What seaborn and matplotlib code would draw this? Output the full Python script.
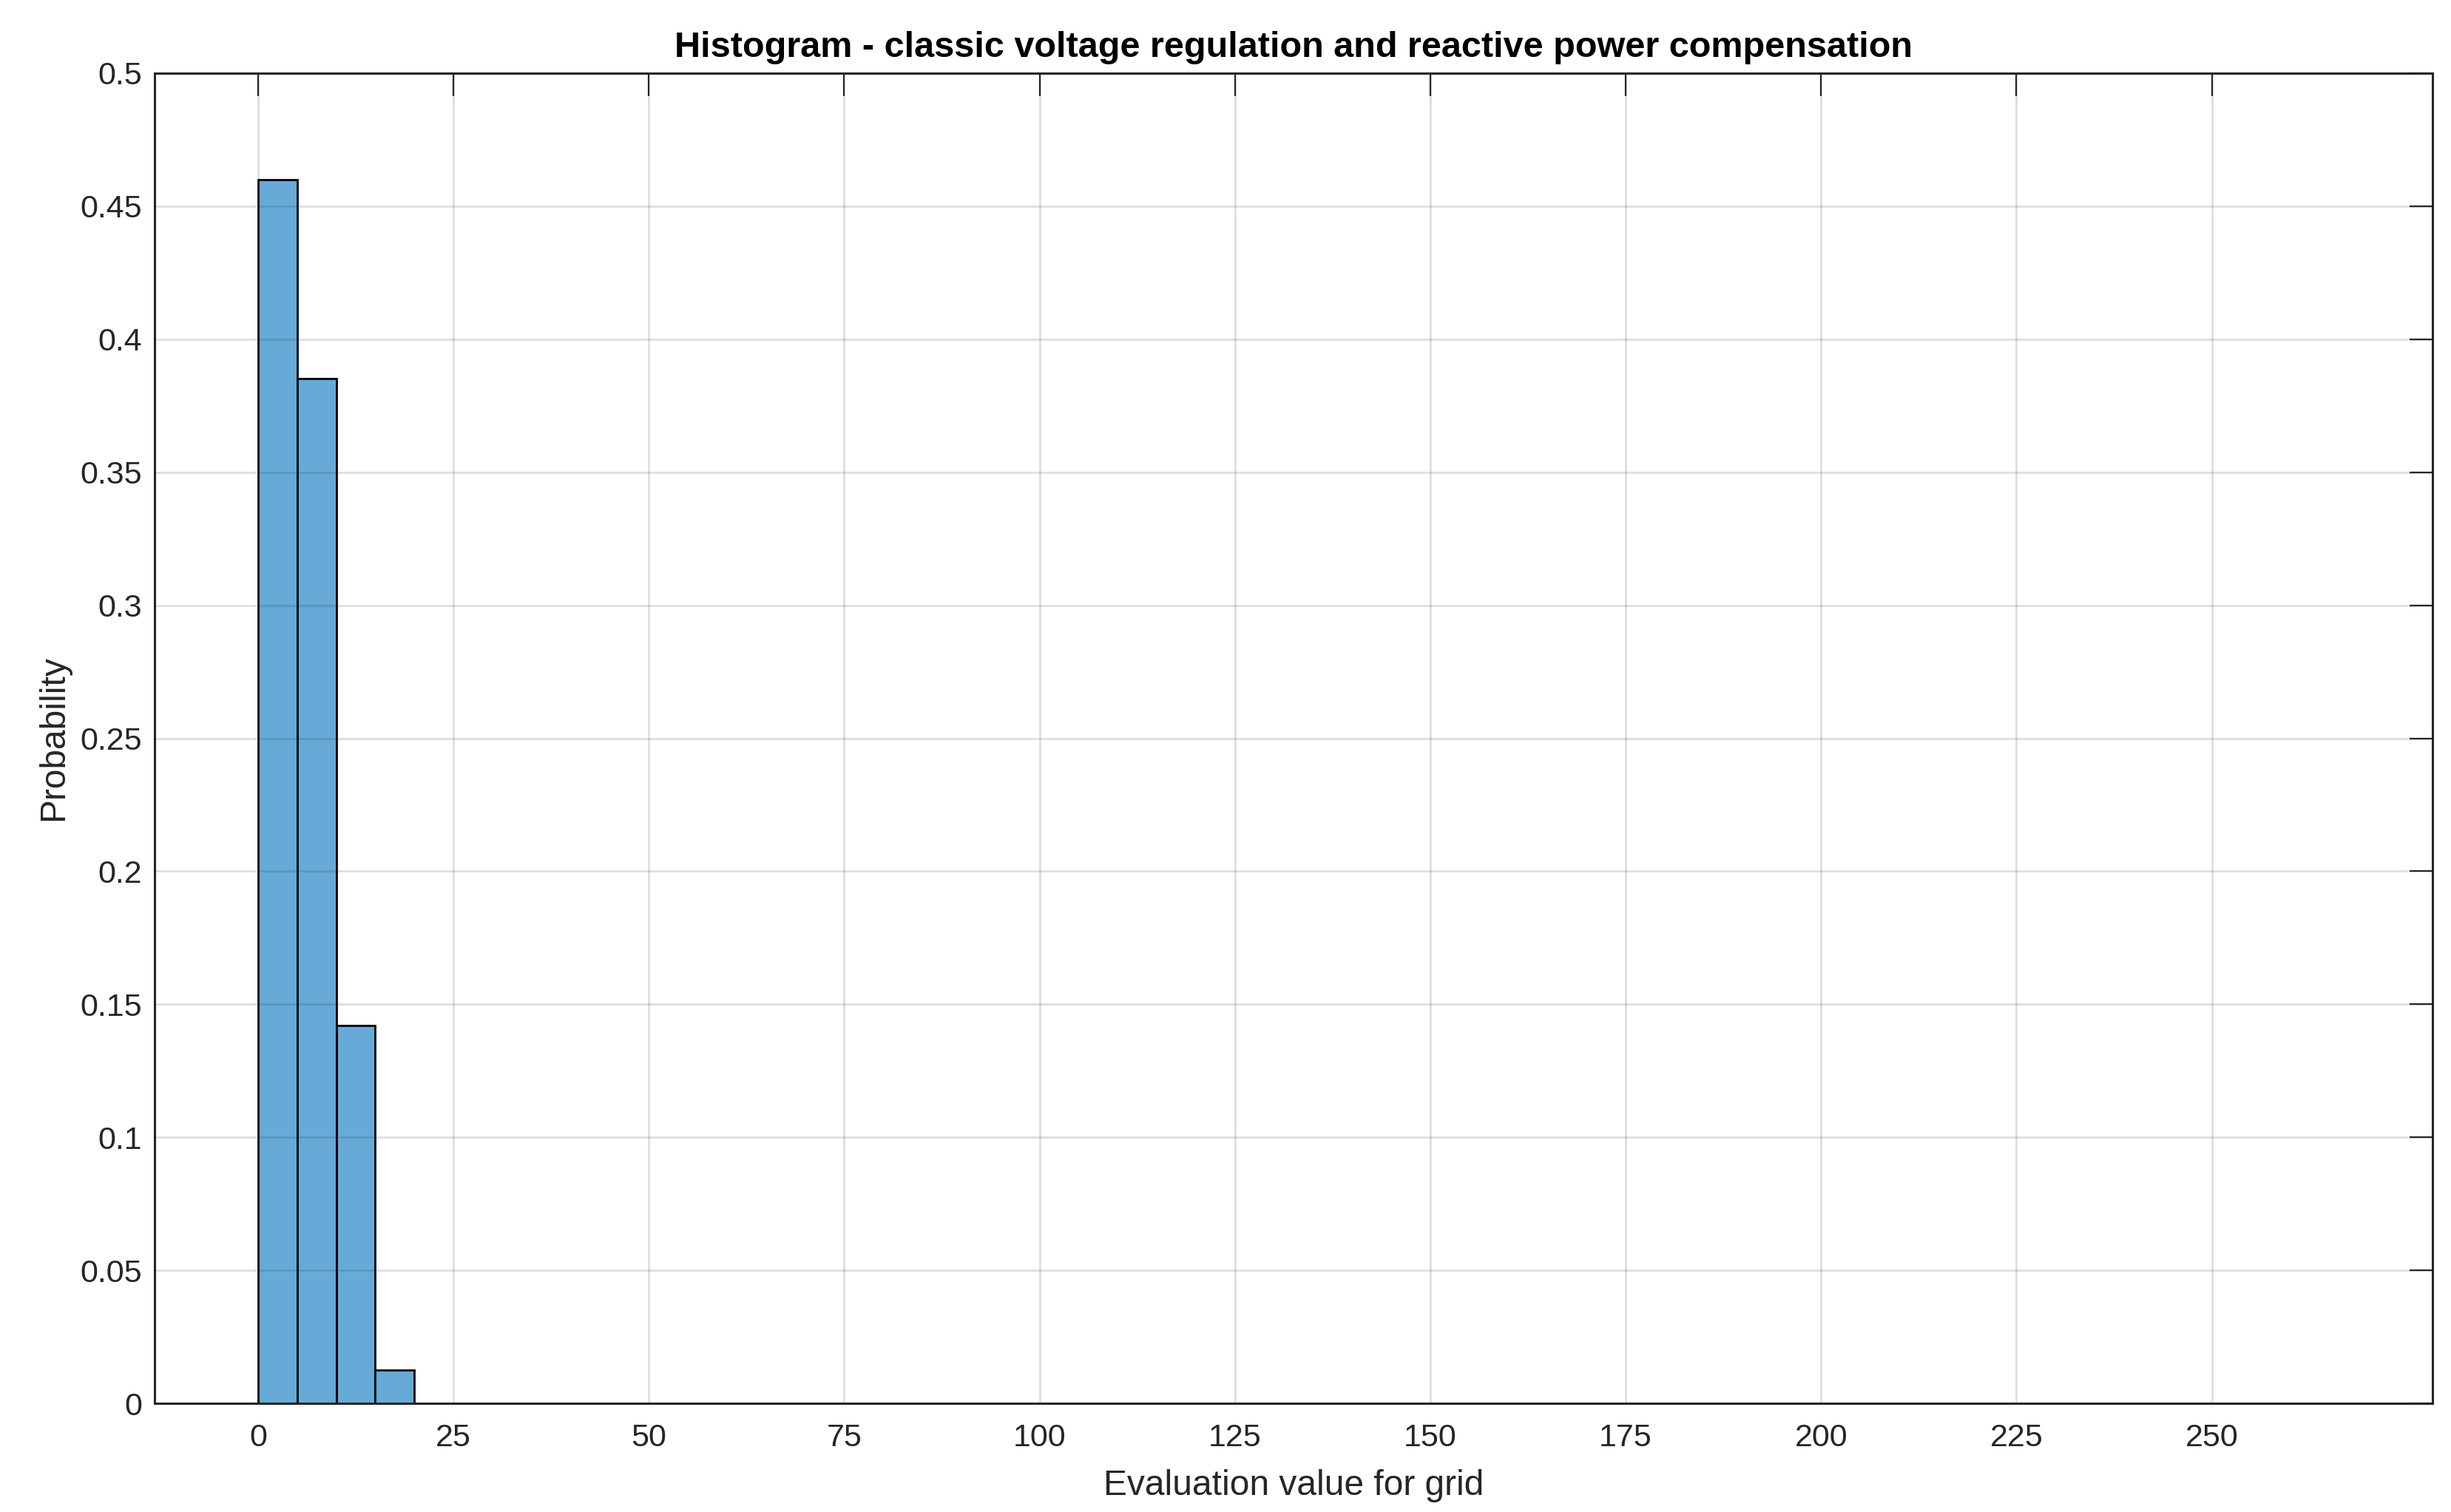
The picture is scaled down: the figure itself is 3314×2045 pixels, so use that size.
import numpy as np
import pandas as pd
import matplotlib
matplotlib.use("Agg")
import matplotlib.pyplot as plt
import seaborn as sns
from matplotlib.ticker import FuncFormatter

# ---- data ----
bin_edges = [0, 5, 10, 15, 20, 25, 30, 35, 40, 45, 50, 55, 60, 65, 70, 75, 80, 85,
             90, 95, 100, 105, 110, 115, 120, 125, 130, 135, 140, 145, 150, 155,
             160, 165, 170, 175, 180, 185, 190, 195, 200, 205, 210, 215, 220, 225,
             230, 235, 240, 245, 250, 255, 260, 265]
probabilities = [0.4601, 0.3853, 0.1420, 0.0126,
                 0, 0, 0, 0, 0, 0, 0, 0, 0, 0, 0, 0, 0, 0, 0, 0, 0, 0, 0, 0, 0,
                 0, 0, 0, 0, 0, 0, 0, 0, 0, 0, 0, 0, 0, 0, 0, 0, 0, 0, 0, 0, 0,
                 0, 0, 0, 0, 0, 0, 0]
x_ticks = [0, 25, 50, 75, 100, 125, 150, 175, 200, 225, 250]
y_ticks = [0, 0.05, 0.1, 0.15, 0.2, 0.25, 0.3, 0.35, 0.4, 0.45, 0.5]
title = "Histogram - classic voltage regulation and reactive power compensation"
xlabel = "Evaluation value for grid"
ylabel = "Probability"

bin_centers = [(a + b) / 2 for a, b in zip(bin_edges[:-1], bin_edges[1:])]
df = pd.DataFrame({"value": bin_centers, "prob": probabilities})

sns.set_theme(style="white")
plt.rcParams["font.family"] = ["Liberation Sans", "DejaVu Sans"]

W, H = 3314, 2045
fig = plt.figure(figsize=(W / 100, H / 100), dpi=100)
ax = fig.add_axes([209 / W, 1 - 1898 / H, (3289 - 209) / W, (1898 - 99) / H])

sns.histplot(data=df, x="value", weights="prob", bins=bin_edges, stat="count",
             color="#67aad7", edgecolor="black", linewidth=2.0, alpha=1.0, ax=ax)

ax.set_xlim(-13.25, 278.25)
ax.set_ylim(0, 0.5)
ax.set_xticks(x_ticks)
ax.set_yticks(y_ticks)
ax.yaxis.set_major_formatter(FuncFormatter(lambda v, p: f"{v:g}"))

ax.set_axisbelow(False)
ax.grid(True, color="#262626", alpha=0.15, linewidth=2.0)

dark = "#262626"
for s in ax.spines.values():
    s.set_visible(True)
    s.set_color(dark)
    s.set_linewidth(2.2)
    s.set_zorder(5)

ax.tick_params(axis="both", which="major", direction="in", top=True, right=True,
               length=22, width=1.6, color=dark, labelcolor=dark, labelsize=31)
ax.tick_params(axis="x", pad=19.5)
ax.tick_params(axis="y", pad=12)

ax.set_title(title, fontsize=35, fontweight="bold", color="black", pad=16)
ax.set_xlabel(xlabel, fontsize=34.5, color=dark, labelpad=16)
ax.set_ylabel(ylabel, fontsize=34.5, color=dark, labelpad=10)

fig.savefig("out.png", dpi=100, facecolor="white")
